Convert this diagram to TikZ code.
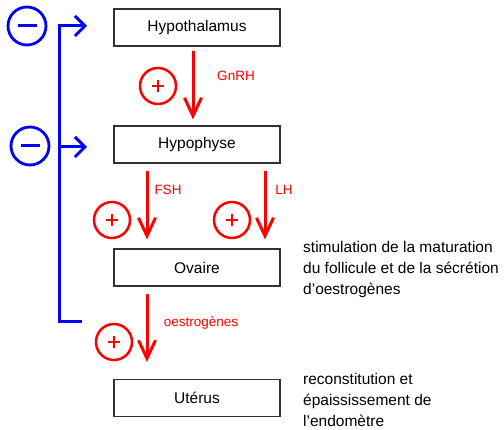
\documentclass[tikz,border=0pt]{standalone}
\usepackage{fontspec}
\setmainfont{Liberation Sans}
\usetikzlibrary{arrows.meta,calc}
\definecolor{boxline}{RGB}{50,50,50}
\begin{document}
\begin{tikzpicture}[x=1pt,y=-1pt,
  organ/.style={draw=boxline,line width=1.3pt,minimum width=166pt,minimum height=37pt,inner sep=0pt,font=\fontsize{15.5}{18}\selectfont},
  redarrow/.style={draw=red,line width=3pt,-{Straight Barb[length=18pt,width=17pt]}},
  bluearrow/.style={draw=blue,line width=3pt,-{Straight Barb[length=10pt,width=20pt]}},
  blueline/.style={draw=blue,line width=3pt},
  hormone/.style={text=red,font=\fontsize{13.5}{16}\selectfont,inner sep=0pt},
  plussign/.style={circle,draw=red,line width=2.5pt,minimum size=36pt,inner sep=0pt},
  minussign/.style={circle,draw=blue,line width=2.8pt,minimum size=38pt,inner sep=0pt},
  note/.style={anchor=west,align=left,inner sep=0pt,font=\fontsize{15.5}{21}\selectfont}]
\useasboundingbox[fill=white] (0,0) rectangle (504,430);

% organs
\node[organ] (hypo) at (197,27.5) {Hypothalamus};
\node[organ] (hyph) at (197,144.5) {Hypophyse};
\node[organ] (ova) at (197,267.5) {Ovaire};
\node[organ] (ute) at (197,398) {Utérus};

% red arrows
\draw[redarrow] ($(hypo.south)+(-4,4)$) -- ($(hyph.north)+(-4,-6)$);
\draw[redarrow] ($(hyph.south)+(-50,7)$) -- ($(ova.north)+(-50,-9)$);
\draw[redarrow] ($(hyph.south)+(68,7)$) -- ($(ova.north)+(68,-9)$);
\draw[redarrow] ($(ova.south)+(-50,7)$) -- ($(ute.north)+(-50,-17)$);

% hormone labels
\node[hormone] (gnrh) at (236,76) {GnRH};
\node[hormone] (fsh) at (168,190) {FSH};
\node[hormone] (lh) at (284,190) {LH};
\node[hormone] (oes) at (201,323) {oestrogènes};

% plus circles
\foreach \n/\p in {p1/{(158,86)},p2/{(112,220)},p3/{(232,220)},p4/{(114,342)}}{
  \node[plussign] (\n) at \p {};
  \draw[red,line width=2pt] ($(\n.center)+(-6,0)$) -- ($(\n.center)+(6,0)$);
  \draw[red,line width=2pt] ($(\n.center)+(0,-6)$) -- ($(\n.center)+(0,6)$);
}

% minus circles
\node[minussign] (m1) at (27,26) {};
\node[minussign] (m2) at (30,146) {};
\draw[blue,line width=3pt] ($(m1.center)+(-9.5,0)$) -- ($(m1.center)+(9.5,0)$);
\draw[blue,line width=3pt] ($(m2.center)+(-9.5,0)$) -- ($(m2.center)+(9.5,0)$);

% blue feedback line
\coordinate (fbtop) at (59,26);
\coordinate (fbmid) at (59,147);
\coordinate (fbbot) at (59,322);
\coordinate (fbend) at (80,322);
\draw[blueline,line cap=rect] (fbtop) -- (fbbot) -- (fbend);
\draw[bluearrow] (fbtop) -- (fbtop -| 87,0);
\draw[bluearrow] (fbmid) -- (fbmid -| 87,0);

% notes
\node[note] (n1) at (303,269.5) {stimulation de la maturation\\du follicule et de la sécrétion\\d\char39 oestrogènes};
\node[note] (n2) at (303,400) {reconstitution et\\épaississement de\\l\char39 endomètre};
\end{tikzpicture}
\end{document}
